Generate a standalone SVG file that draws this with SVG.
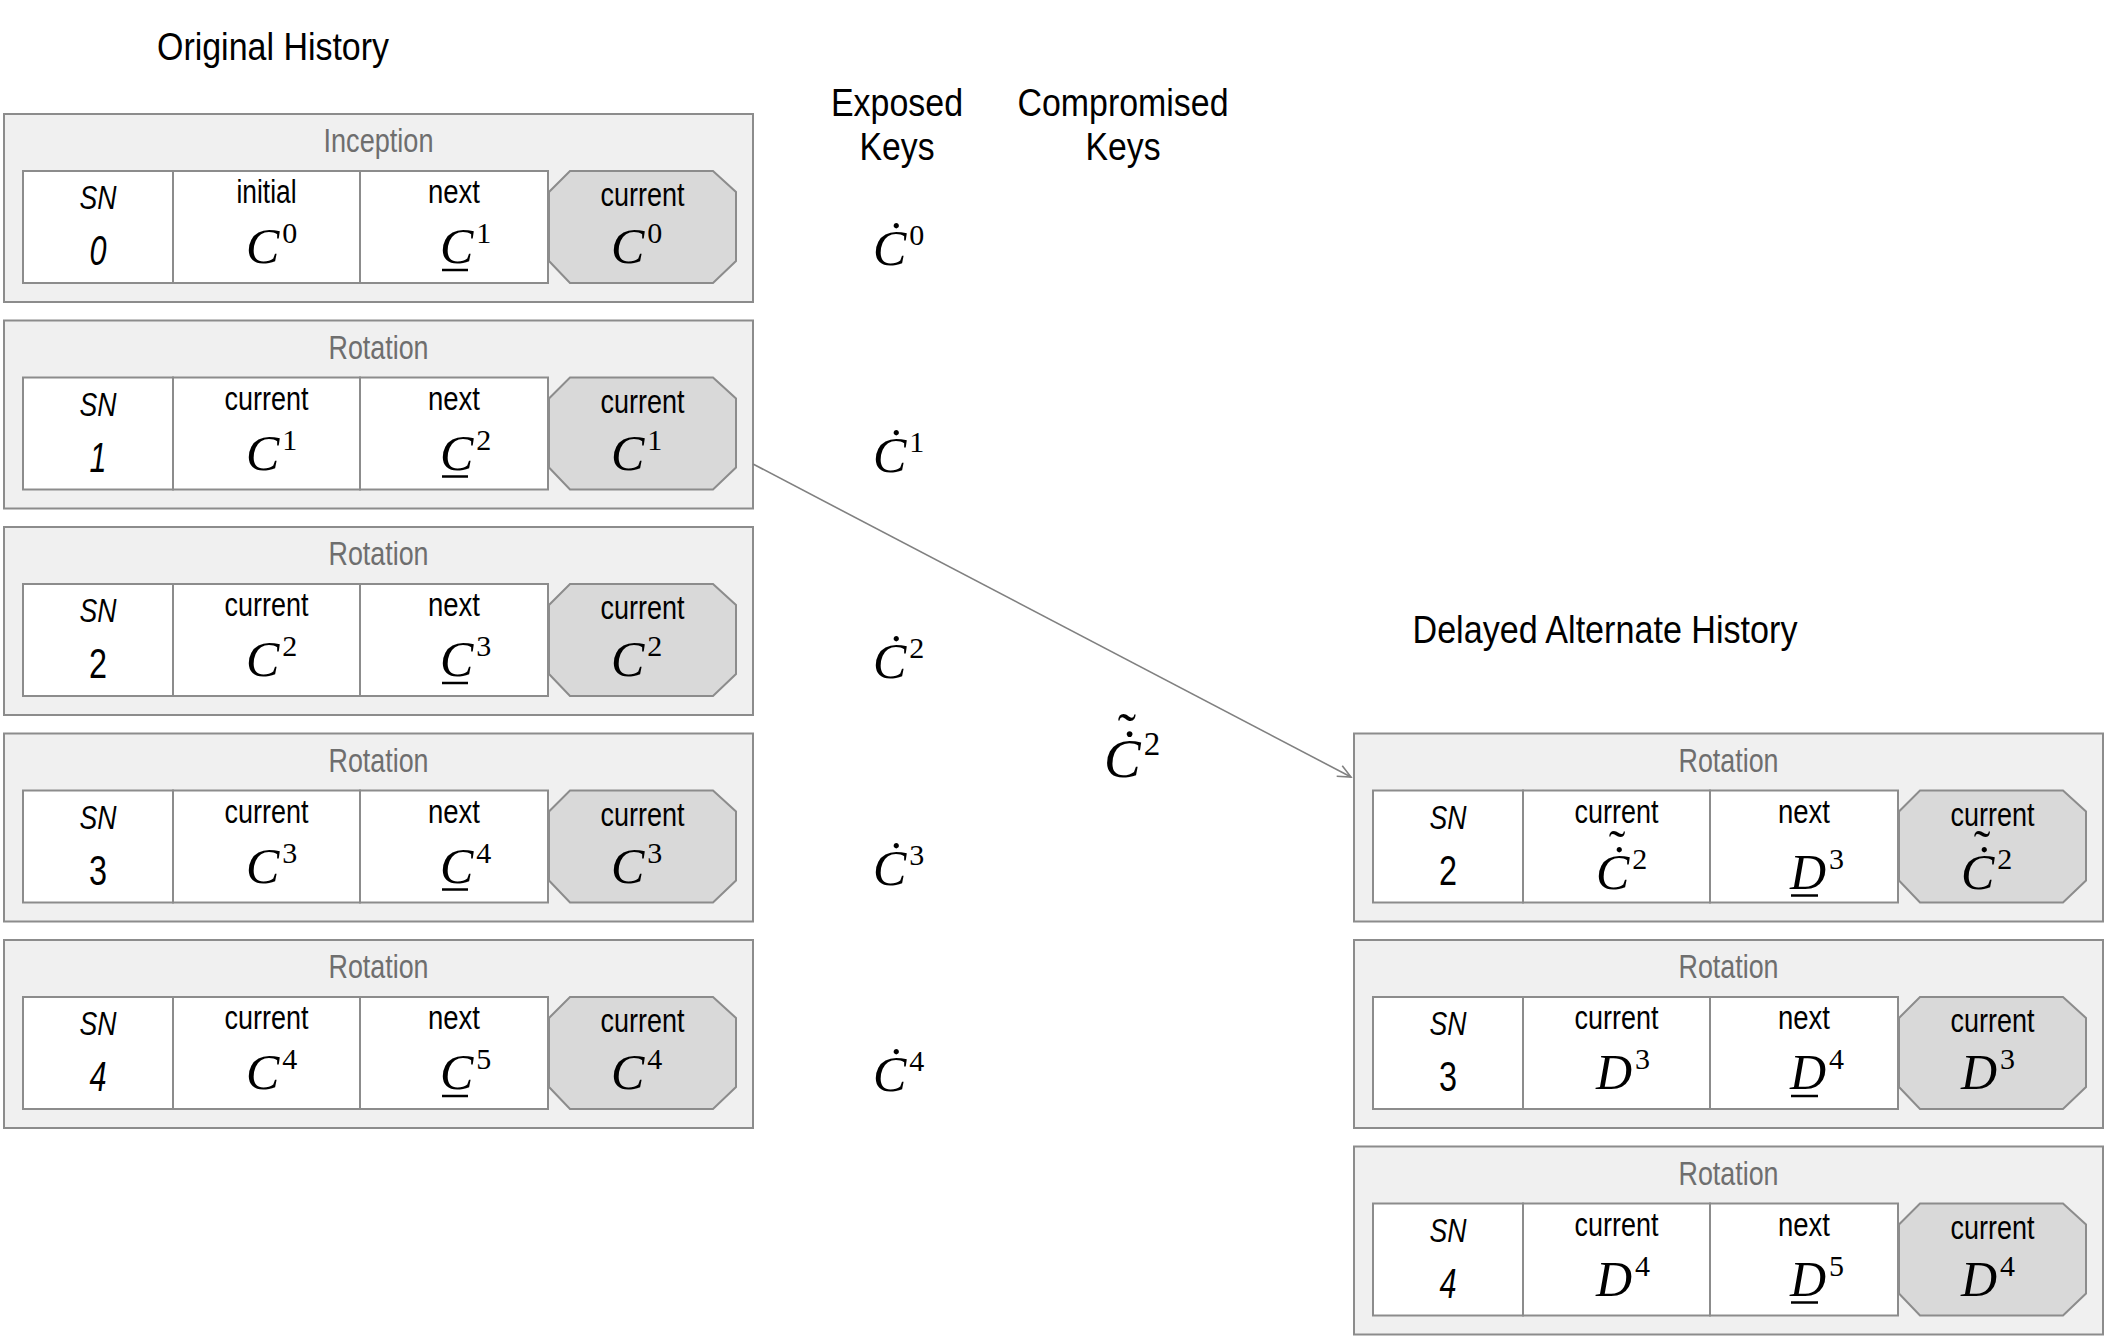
<svg xmlns="http://www.w3.org/2000/svg" width="2108" height="1337" viewBox="0 0 2108 1337">
<defs>
<style>
.frame{fill:#f0f0f0;stroke:#8c8c8c;stroke-width:2}
.cell{fill:#ffffff;stroke:#8c8c8c;stroke-width:2}
.hex{fill:#d9d9d9;stroke:#8c8c8c;stroke-width:2}
.title{font-family:"Liberation Sans",Arial,sans-serif;font-size:33px;fill:#6e6e6e;text-anchor:middle}
.lbl{font-family:"Liberation Sans",Arial,sans-serif;font-size:33px;fill:#000;text-anchor:middle}
.it{font-style:italic}
.num{font-size:42px}
.m{font-family:"Liberation Serif","Times New Roman",serif;font-style:italic;font-size:50px;fill:#000}
.sup{font-style:normal;font-size:30px}
.tl{font-family:"Liberation Serif","Times New Roman",serif;font-size:50px;fill:#000;text-anchor:middle}
.ul{stroke:#000;stroke-width:2.5}
.hdr{font-family:"Liberation Sans",Arial,sans-serif;font-size:38px;fill:#000;text-anchor:middle}
.conn{fill:none;stroke:#808080;stroke-width:1.6}
</style>
<marker id="arr" markerWidth="16" markerHeight="14" refX="14" refY="7" orient="auto" markerUnits="userSpaceOnUse">
<path d="M1,1 L14,7 L1,13" fill="none" stroke="#808080" stroke-width="1.6"/>
</marker>
<g id="shell">
<rect class="frame" x="0" y="0" width="749" height="188"/>
<rect class="cell" x="19" y="57" width="150" height="112"/>
<rect class="cell" x="169" y="57" width="187" height="112"/>
<rect class="cell" x="356" y="57" width="188" height="112"/>
<polygon class="hex" points="566,57 709,57 732,78 732,147 709,169 566,169 545,147 545,78"/>
<text class="lbl it" x="94" y="95" textLength="37" lengthAdjust="spacingAndGlyphs">SN</text>
</g>
</defs>

<text class="hdr" x="273" y="60" textLength="232" lengthAdjust="spacingAndGlyphs">Original History</text>
<text class="hdr" x="1605" y="643" textLength="385" lengthAdjust="spacingAndGlyphs">Delayed Alternate History</text>
<text class="hdr" x="897" y="116" textLength="132" lengthAdjust="spacingAndGlyphs">Exposed</text>
<text class="hdr" x="897" y="160" textLength="75" lengthAdjust="spacingAndGlyphs">Keys</text>
<text class="hdr" x="1123" y="116" textLength="211" lengthAdjust="spacingAndGlyphs">Compromised</text>
<text class="hdr" x="1123" y="160" textLength="75" lengthAdjust="spacingAndGlyphs">Keys</text>

<g id="evt-inception" transform="translate(4,114)">
<use href="#shell"/>
<text class="title" x="374.5" y="38" textLength="110" lengthAdjust="spacingAndGlyphs">Inception</text>
<text class="lbl it num" x="94" y="151" textLength="17" lengthAdjust="spacingAndGlyphs">0</text>
<text class="lbl" x="262.5" y="89" textLength="60" lengthAdjust="spacingAndGlyphs">initial</text>
<text class="lbl" x="450" y="89" textLength="52" lengthAdjust="spacingAndGlyphs">next</text>
<text class="lbl" x="638.5" y="92" textLength="84" lengthAdjust="spacingAndGlyphs">current</text>
<text class="m" x="242" y="149">C<tspan class="sup" dx="3" dy="-20">0</tspan></text>
<text class="m" x="436" y="149">C<tspan class="sup" dx="3" dy="-20">1</tspan></text>
<line class="ul" x1="438" y1="156" x2="464" y2="156"/>
<text class="m" x="607" y="149">C<tspan class="sup" dx="3" dy="-20">0</tspan></text>
</g>

<g id="evt-rot1" transform="translate(4,320.5)">
<use href="#shell"/>
<text class="title" x="374.5" y="38" textLength="100" lengthAdjust="spacingAndGlyphs">Rotation</text>
<text class="lbl it num" x="94" y="151" textLength="17" lengthAdjust="spacingAndGlyphs">1</text>
<text class="lbl" x="262.5" y="89" textLength="84" lengthAdjust="spacingAndGlyphs">current</text>
<text class="lbl" x="450" y="89" textLength="52" lengthAdjust="spacingAndGlyphs">next</text>
<text class="lbl" x="638.5" y="92" textLength="84" lengthAdjust="spacingAndGlyphs">current</text>
<text class="m" x="242" y="149">C<tspan class="sup" dx="3" dy="-20">1</tspan></text>
<text class="m" x="436" y="149">C<tspan class="sup" dx="3" dy="-20">2</tspan></text>
<line class="ul" x1="438" y1="156" x2="464" y2="156"/>
<text class="m" x="607" y="149">C<tspan class="sup" dx="3" dy="-20">1</tspan></text>
</g>

<g id="evt-rot2" transform="translate(4,527)">
<use href="#shell"/>
<text class="title" x="374.5" y="38" textLength="100" lengthAdjust="spacingAndGlyphs">Rotation</text>
<text class="lbl num" x="94" y="151" textLength="18" lengthAdjust="spacingAndGlyphs">2</text>
<text class="lbl" x="262.5" y="89" textLength="84" lengthAdjust="spacingAndGlyphs">current</text>
<text class="lbl" x="450" y="89" textLength="52" lengthAdjust="spacingAndGlyphs">next</text>
<text class="lbl" x="638.5" y="92" textLength="84" lengthAdjust="spacingAndGlyphs">current</text>
<text class="m" x="242" y="149">C<tspan class="sup" dx="3" dy="-20">2</tspan></text>
<text class="m" x="436" y="149">C<tspan class="sup" dx="3" dy="-20">3</tspan></text>
<line class="ul" x1="438" y1="156" x2="464" y2="156"/>
<text class="m" x="607" y="149">C<tspan class="sup" dx="3" dy="-20">2</tspan></text>
</g>

<g id="evt-rot3" transform="translate(4,733.5)">
<use href="#shell"/>
<text class="title" x="374.5" y="38" textLength="100" lengthAdjust="spacingAndGlyphs">Rotation</text>
<text class="lbl num" x="94" y="151" textLength="18" lengthAdjust="spacingAndGlyphs">3</text>
<text class="lbl" x="262.5" y="89" textLength="84" lengthAdjust="spacingAndGlyphs">current</text>
<text class="lbl" x="450" y="89" textLength="52" lengthAdjust="spacingAndGlyphs">next</text>
<text class="lbl" x="638.5" y="92" textLength="84" lengthAdjust="spacingAndGlyphs">current</text>
<text class="m" x="242" y="149">C<tspan class="sup" dx="3" dy="-20">3</tspan></text>
<text class="m" x="436" y="149">C<tspan class="sup" dx="3" dy="-20">4</tspan></text>
<line class="ul" x1="438" y1="156" x2="464" y2="156"/>
<text class="m" x="607" y="149">C<tspan class="sup" dx="3" dy="-20">3</tspan></text>
</g>

<g id="evt-rot4" transform="translate(4,940)">
<use href="#shell"/>
<text class="title" x="374.5" y="38" textLength="100" lengthAdjust="spacingAndGlyphs">Rotation</text>
<text class="lbl it num" x="94" y="151" textLength="17" lengthAdjust="spacingAndGlyphs">4</text>
<text class="lbl" x="262.5" y="89" textLength="84" lengthAdjust="spacingAndGlyphs">current</text>
<text class="lbl" x="450" y="89" textLength="52" lengthAdjust="spacingAndGlyphs">next</text>
<text class="lbl" x="638.5" y="92" textLength="84" lengthAdjust="spacingAndGlyphs">current</text>
<text class="m" x="242" y="149">C<tspan class="sup" dx="3" dy="-20">4</tspan></text>
<text class="m" x="436" y="149">C<tspan class="sup" dx="3" dy="-20">5</tspan></text>
<line class="ul" x1="438" y1="156" x2="464" y2="156"/>
<text class="m" x="607" y="149">C<tspan class="sup" dx="3" dy="-20">4</tspan></text>
</g>

<g id="alt-rot2" transform="translate(1354,733.5)">
<use href="#shell"/>
<text class="title" x="374.5" y="38" textLength="100" lengthAdjust="spacingAndGlyphs">Rotation</text>
<text class="lbl num" x="94" y="151" textLength="18" lengthAdjust="spacingAndGlyphs">2</text>
<text class="lbl" x="262.5" y="89" textLength="84" lengthAdjust="spacingAndGlyphs">current</text>
<text class="lbl" x="450" y="89" textLength="52" lengthAdjust="spacingAndGlyphs">next</text>
<text class="lbl" x="638.5" y="92" textLength="84" lengthAdjust="spacingAndGlyphs">current</text>
<text class="m" x="242" y="155">Ċ<tspan class="sup" dx="3" dy="-20">2</tspan></text>
<text class="tl" x="263" y="131">˜</text>
<text class="m" x="436" y="155">D<tspan class="sup" dx="3" dy="-20">3</tspan></text>
<line class="ul" x1="437" y1="162" x2="464" y2="162"/>
<text class="m" x="607" y="155">Ċ<tspan class="sup" dx="3" dy="-20">2</tspan></text>
<text class="tl" x="628" y="131">˜</text>
</g>

<g id="alt-rot3" transform="translate(1354,940)">
<use href="#shell"/>
<text class="title" x="374.5" y="38" textLength="100" lengthAdjust="spacingAndGlyphs">Rotation</text>
<text class="lbl num" x="94" y="151" textLength="18" lengthAdjust="spacingAndGlyphs">3</text>
<text class="lbl" x="262.5" y="89" textLength="84" lengthAdjust="spacingAndGlyphs">current</text>
<text class="lbl" x="450" y="89" textLength="52" lengthAdjust="spacingAndGlyphs">next</text>
<text class="lbl" x="638.5" y="92" textLength="84" lengthAdjust="spacingAndGlyphs">current</text>
<text class="m" x="242" y="149">D<tspan class="sup" dx="3" dy="-20">3</tspan></text>
<text class="m" x="436" y="149">D<tspan class="sup" dx="3" dy="-20">4</tspan></text>
<line class="ul" x1="437" y1="156" x2="464" y2="156"/>
<text class="m" x="607" y="149">D<tspan class="sup" dx="3" dy="-20">3</tspan></text>
</g>

<g id="alt-rot4" transform="translate(1354,1146.5)">
<use href="#shell"/>
<text class="title" x="374.5" y="38" textLength="100" lengthAdjust="spacingAndGlyphs">Rotation</text>
<text class="lbl it num" x="94" y="151" textLength="17" lengthAdjust="spacingAndGlyphs">4</text>
<text class="lbl" x="262.5" y="89" textLength="84" lengthAdjust="spacingAndGlyphs">current</text>
<text class="lbl" x="450" y="89" textLength="52" lengthAdjust="spacingAndGlyphs">next</text>
<text class="lbl" x="638.5" y="92" textLength="84" lengthAdjust="spacingAndGlyphs">current</text>
<text class="m" x="242" y="149">D<tspan class="sup" dx="3" dy="-20">4</tspan></text>
<text class="m" x="436" y="149">D<tspan class="sup" dx="3" dy="-20">5</tspan></text>
<line class="ul" x1="437" y1="156" x2="464" y2="156"/>
<text class="m" x="607" y="149">D<tspan class="sup" dx="3" dy="-20">4</tspan></text>
</g>

<g id="exposed-keys">
<text class="m" x="873" y="265">Ċ<tspan class="sup" dx="3" dy="-20">0</tspan></text>
<text class="m" x="873" y="471.5">Ċ<tspan class="sup" dx="3" dy="-20">1</tspan></text>
<text class="m" x="873" y="678">Ċ<tspan class="sup" dx="3" dy="-20">2</tspan></text>
<text class="m" x="873" y="884.5">Ċ<tspan class="sup" dx="3" dy="-20">3</tspan></text>
<text class="m" x="873" y="1091">Ċ<tspan class="sup" dx="3" dy="-20">4</tspan></text>
</g>

<g id="compromised-keys">
<text class="m" x="1104" y="777" style="font-size:55px">Ċ<tspan class="sup" dx="3" dy="-22" style="font-size:33px">2</tspan></text>
<text class="tl" x="1127" y="751" style="font-size:55px">˜</text>
</g>

<g id="connectors">
<line class="conn" x1="753" y1="464" x2="1351" y2="777" marker-end="url(#arr)"/>
</g>
</svg>
